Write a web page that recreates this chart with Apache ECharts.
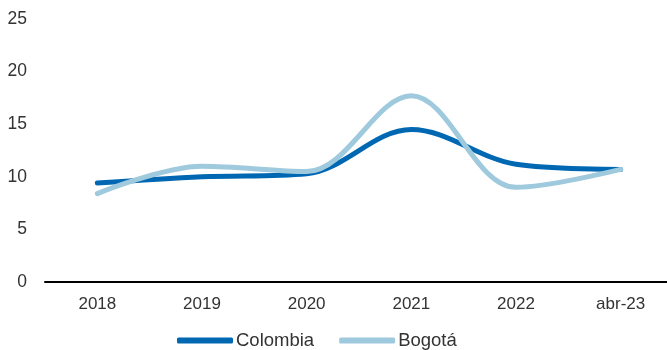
<!DOCTYPE html>
<html>
<head>
<meta charset="utf-8">
<script src="https://cdn.jsdelivr.net/npm/echarts@6/dist/echarts.min.js"></script>
<style>html,body{margin:0;padding:0;background:#fff;overflow:hidden}#c{width:680px;height:350px}</style>
</head>
<body>
<div id="c"></div>
<script>
var categories = ['2018', '2019', '2020', '2021', '2022', 'abr-23'];
var colombia = [9.4, 10.0, 10.3, 14.5, 11.2, 10.7];
var bogota = [8.4, 11.0, 10.5, 17.7, 9.0, 10.7];
var yTicks = [0, 5, 10, 15, 20, 25];

var chart = echarts.init(document.getElementById('c'));
var font = 'Liberation Sans, Arial, sans-serif';
chart.setOption({
  animation: false,
  grid: { left: 45, right: 7, top: 19, bottom: 68, containLabel: false },
  legend: {
    left: 172, top: 326,
    itemWidth: 56, itemHeight: 6, itemGap: 25,
    icon: 'roundRect',
    textStyle: { fontFamily: font, fontSize: 18.5, color: '#333', padding: [0, 0, 0, -2] },
    data: [{ name: 'Colombia' }, { name: 'Bogotá' }]
  },
  xAxis: {
    type: 'category', data: categories, boundaryGap: true,
    axisLine: { lineStyle: { color: '#000', width: 2 } },
    axisTick: { show: false },
    axisLabel: { fontFamily: font, fontSize: 17, color: '#333', margin: 14 }
  },
  yAxis: {
    type: 'value', min: yTicks[0], max: yTicks[yTicks.length - 1], interval: 5,
    axisLine: { show: false }, axisTick: { show: false }, splitLine: { show: false },
    axisLabel: { fontFamily: font, fontSize: 17.5, color: '#333', margin: 18 }
  },
  series: [
    { name: 'Colombia', type: 'line', data: colombia, smooth: 0.35, showSymbol: false,
      itemStyle: { color: '#0068b3' },
      lineStyle: { color: '#0068b3', width: 5, cap: 'round' } },
    { name: 'Bogotá', type: 'line', data: bogota, smooth: 0.35, showSymbol: false,
      itemStyle: { color: '#9fc9dd' },
      lineStyle: { color: '#9fc9dd', width: 5, cap: 'round' } }
  ]
});
</script>
</body>
</html>
